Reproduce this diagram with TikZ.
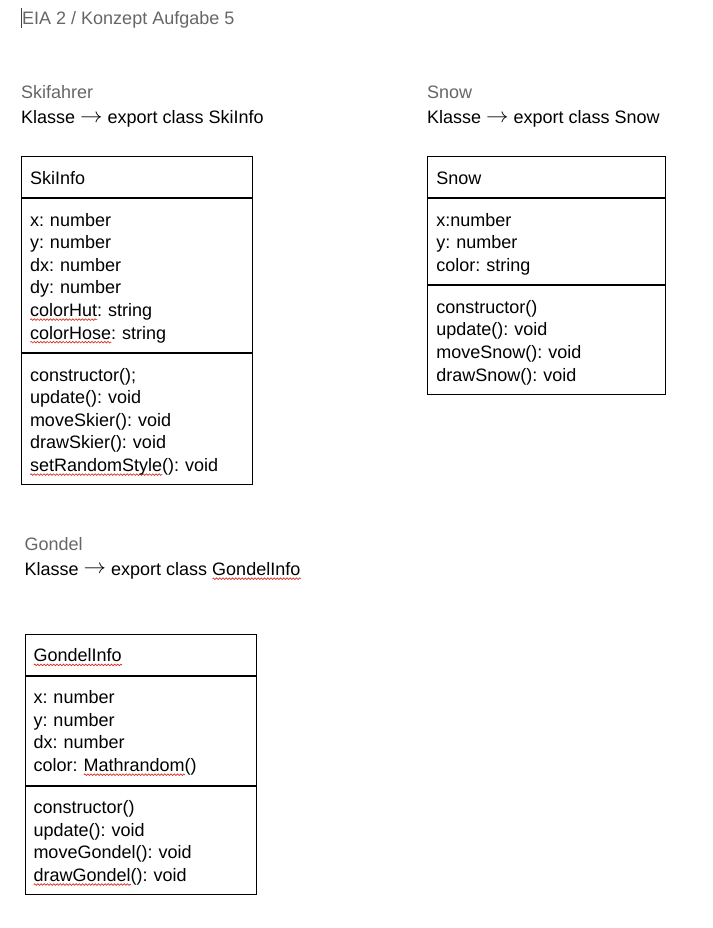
\documentclass[tikz,border=0pt]{standalone}
\usepackage{fontspec}
\usepackage{graphicx}
\setmainfont{Liberation Sans}
\usetikzlibrary{positioning,decorations.pathmorphing}
\frenchspacing

\definecolor{titlegray}{HTML}{666666}
\definecolor{spellred}{HTML}{D93025}

% wavy red spell-check underline
\newsavebox\spellbox
\newlength\spellwd
\newcommand\spell[1]{\leavevmode\sbox\spellbox{#1}\setlength\spellwd{\wd\spellbox}%
  \rlap{\tikz[baseline=0pt]\draw[spellred, line width=0.7pt, decorate,
    decoration={zigzag, amplitude=0.8pt, segment length=3.2pt}] (0pt,-3.2pt) -- (\spellwd,-3.2pt);}#1}
\newcommand\toarrow{\raisebox{1.6pt}{\scalebox{1.3}[1.2]{$\rightarrow$}}}
\newcommand\hstr{\rule{0pt}{21.5pt}}
\newcommand\dstr{\rule[-7.5pt]{0pt}{7.5pt}}

\tikzset{
  doc/.style={anchor=base west, inner sep=0pt, font=\fontsize{18}{22.6}\selectfont},
  heading/.style={doc, text=titlegray},
  part/.style={draw, line width=1pt, inner xsep=8.5pt, inner ysep=6pt, align=left,
    font=\fontsize{18}{22.6}\selectfont}
}

\begin{document}
\begin{tikzpicture}[x=1pt, y=-1pt]
  \useasboundingbox (0,0) rectangle (712,928);

  % page title
  \draw[line width=1.2pt, black!75] (21.5,8) -- (21.5,28);
  \node[heading] (title) at (22,25) {EIA 2 / Konzept Aufgabe 5};

  % Skifahrer
  \node[heading] (skititle) at (21,99) {Skifahrer};
  \node[doc] (skiclass) at (21,124) {Klasse \toarrow\ export class SkiInfo};
  \node[part, text width=214pt, anchor=north west] (skihead) at (21,156) {\hstr SkiInfo\dstr};
  \node[part, text width=214pt, below=0pt of skihead] (skiattr) {\hstr x: number\\
    y: number\\
    dx: number\\
    dy: number\\
    \spell{colorHut}: string\\
    \spell{colorHose}: string\dstr};
  \node[part, text width=214pt, below=0pt of skiattr] (skimeth) {\hstr constructor();\\
    update(): void\\
    moveSkier(): void\\
    drawSkier(): void\\
    \spell{setRandomStyle}(): void\dstr};

  % Snow
  \node[heading] (snowtitle) at (427,99) {Snow};
  \node[doc] (snowclass) at (427,124) {Klasse \toarrow\ export class Snow};
  \node[part, text width=220.7pt, anchor=north west] (snowhead) at (427.3,156) {\hstr Snow\dstr};
  \node[part, text width=220.7pt, below=0pt of snowhead] (snowattr) {\hstr x:number\\
    y: number\\
    color: string\dstr};
  \node[part, text width=220.7pt, below=0pt of snowattr] (snowmeth) {\hstr constructor()\\
    update(): void\\
    moveSnow(): void\\
    drawSnow(): void\dstr};

  % Gondel
  \node[heading] (gondeltitle) at (24.5,550) {Gondel};
  \node[doc] (gondelclass) at (24.5,575.5) {Klasse \toarrow\ export class \spell{GondelInfo}};
  \node[part, text width=214.4pt, anchor=north west] (gondelhead) at (24.5,633.7) {\hstr \spell{GondelInfo}\dstr};
  \node[part, text width=214.4pt, below=0pt of gondelhead] (gondelattr) {\hstr x: number\\
    y: number\\
    dx: number\\
    color: \spell{Mathrandom}()\dstr};
  \node[part, text width=214.4pt, below=0pt of gondelattr] (gondelmeth) {\hstr constructor()\\
    update(): void\\
    moveGondel(): void\\
    \spell{drawGondel}(): void\dstr};
\end{tikzpicture}
\end{document}
